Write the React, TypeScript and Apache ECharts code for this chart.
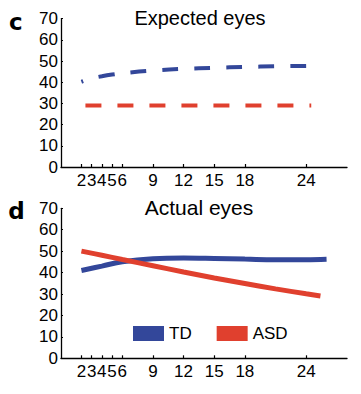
import React, { useEffect, useRef } from "react";
import * as echarts from "echarts";

const FONT = '"Liberation Sans", Arial, Helvetica, sans-serif';
const HEAVY = '"DejaVu Sans", "Liberation Sans", Arial, sans-serif';
const BLUE = "#33479a";
const RED = "#e0402e";

// x tick labels (months)
const monthTicks = [2, 3, 4, 5, 6, 9, 12, 15, 18, 24];
const yTicks = [0, 10, 20, 30, 40, 50, 60, 70];

// Panel c: expected eyes
const expectedMonths = [2, 3, 4, 5, 6, 9, 12, 15, 18, 21, 24];
const expectedTD = [40.2, 41.8, 42.8, 43.6, 44.2, 45.5, 46.3, 46.8, 47.2, 47.5, 47.7];
const expectedASDMonths = [2, 6, 12, 18, 24.5];
const expectedASD = [29, 29, 29, 29, 29];

// Panel d: actual eyes
const actualTDMonths = [2, 4, 6, 9, 12, 15, 18, 21, 24, 26];
const actualTD = [41.0, 43.0, 45.1, 46.5, 46.8, 46.6, 46.3, 46.0, 46.0, 46.2];
const actualASDMonths = [2, 4, 6, 9, 12, 15, 18, 21, 24, 25.4];
const actualASD = [50.0, 48.1, 46.1, 43.2, 40.3, 37.5, 34.9, 32.4, 30.1, 29.1];

const zip = (xs: number[], ys: number[]) => xs.map((x, i) => [x, ys[i]]);

export default function App() {
  const ref = useRef<HTMLDivElement>(null);
  useEffect(() => {
    if (!ref.current) return;
    const chart = echarts.init(ref.current, null, { renderer: "svg" });
    const xAxisBase = (gridIndex: number) => ({
      type: "value",
      gridIndex,
      min: 0,
      max: 28,
      axisLine: { show: true, lineStyle: { color: "#000", width: 1.3 } },
      axisTick: {
        show: true,
        inside: true,
        length: 3,
        customValues: monthTicks,
        lineStyle: { color: "#000", width: 1.2 },
      },
      axisLabel: {
        show: true,
        customValues: monthTicks,
        margin: 5,
        fontSize: 17,
        fontFamily: FONT,
        color: "#000",
      },
      splitLine: { show: false },
    });
    const yAxisBase = (gridIndex: number) => ({
      type: "value",
      gridIndex,
      min: 0,
      max: 70,
      interval: 10,
      axisLine: { show: true, lineStyle: { color: "#000", width: 1.3 } },
      axisTick: { show: true, inside: true, length: 2, lineStyle: { color: "#000", width: 1.2 } },
      axisLabel: {
        show: true,
        margin: 3,
        fontSize: 17,
        fontFamily: FONT,
        color: "#000",
        customValues: yTicks,
      },
      splitLine: { show: false },
    });
    chart.setOption({
      animation: false,
      backgroundColor: "#fff",
      grid: [
        { left: 61, right: 14, top: 18.6, height: 148.4 },
        { left: 61, right: 14, top: 208.3, height: 150 },
      ],
      xAxis: [xAxisBase(0), xAxisBase(1)],
      yAxis: [yAxisBase(0), yAxisBase(1)],
      legend: {
        data: [
          { name: "TD", icon: "rect" },
          { name: "ASD", icon: "rect" },
        ],
        left: 128,
        top: 320,
        itemWidth: 31,
        itemHeight: 15,
        itemGap: 25,
        itemStyle: { borderWidth: 0 },
        textStyle: { fontSize: 17, fontFamily: FONT, color: "#000", padding: [0, 0, 0, 0] },
      },
      graphic: [
        {
          type: "text",
          x: 15.7,
          y: 22,
          style: {
            text: "c",
            font: `bold 23px ${HEAVY}`,
            fill: "#000",
            align: "center",
            verticalAlign: "middle",
          },
        },
        {
          type: "text",
          x: 16.5,
          y: 210.5,
          style: {
            text: "d",
            font: `bold 23px ${HEAVY}`,
            fill: "#000",
            align: "center",
            verticalAlign: "middle",
          },
        },
        {
          type: "text",
          x: 200,
          y: 18,
          style: {
            text: "Expected eyes",
            font: `20px ${FONT}`,
            fill: "#000",
            align: "center",
            verticalAlign: "middle",
          },
        },
        {
          type: "text",
          x: 199,
          y: 207,
          style: {
            text: "Actual eyes",
            font: `21px ${FONT}`,
            fill: "#000",
            align: "center",
            verticalAlign: "middle",
          },
        },
      ],
      series: [
        {
          name: "TD expected",
          type: "line",
          xAxisIndex: 0,
          yAxisIndex: 0,
          data: zip(expectedMonths, expectedTD),
          smooth: 0.4,
          showSymbol: false,
          silent: true,
          itemStyle: { color: BLUE },
          lineStyle: { color: BLUE, width: 4, type: [16, 16], dashOffset: 14 },
        },
        {
          name: "ASD expected",
          type: "line",
          xAxisIndex: 0,
          yAxisIndex: 0,
          data: zip(expectedASDMonths, expectedASD),
          showSymbol: false,
          silent: true,
          itemStyle: { color: RED },
          lineStyle: { color: RED, width: 4, type: [16, 16], dashOffset: 28 },
        },
        {
          name: "TD",
          type: "line",
          xAxisIndex: 1,
          yAxisIndex: 1,
          data: zip(actualTDMonths, actualTD),
          smooth: 0.4,
          showSymbol: false,
          silent: true,
          itemStyle: { color: BLUE },
          lineStyle: { color: BLUE, width: 5 },
        },
        {
          name: "ASD",
          type: "line",
          xAxisIndex: 1,
          yAxisIndex: 1,
          data: zip(actualASDMonths, actualASD),
          smooth: 0.4,
          showSymbol: false,
          silent: true,
          itemStyle: { color: RED },
          lineStyle: { color: RED, width: 5 },
        },
      ],
    });
    return () => chart.dispose();
  }, []);
  return (
    <div
      ref={ref}
      style={{ position: "fixed", left: 0, top: 0, width: 361, height: 394 }}
    />
  );
}
